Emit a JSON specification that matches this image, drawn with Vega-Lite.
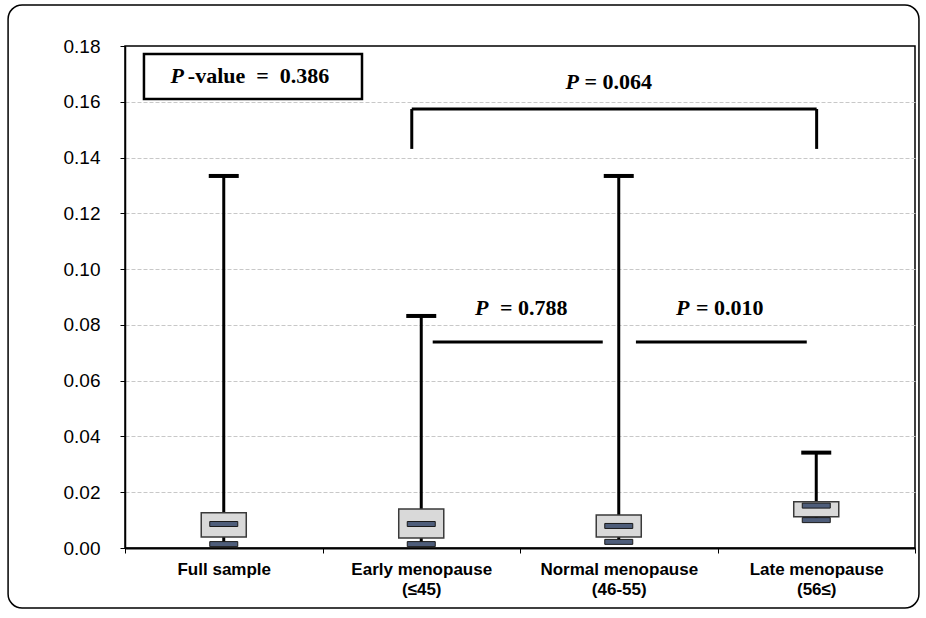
{
  "$schema": "https://vega.github.io/schema/vega-lite/v6.json",
  "width": 790,
  "height": 502,
  "autosize": "none",
  "padding": {"left": 125, "top": 46, "right": 11, "bottom": 70},
  "background": "#ffffff",
  "config": {
    "view": {"stroke": "#000000", "strokeWidth": 1.5},
    "font": "Liberation Sans"
  },
  "datasets": {
    "boxes": [
      {"group": "Full sample", "lower": 0.0014, "q1": 0.0039, "median": 0.0086, "q3": 0.0126, "upper": 0.1334},
      {"group": "Early menopause\n(≤45)", "lower": 0.0014, "q1": 0.0036, "median": 0.0086, "q3": 0.0140, "upper": 0.0832},
      {"group": "Normal menopause\n(46-55)", "lower": 0.0022, "q1": 0.0039, "median": 0.0079, "q3": 0.0118, "upper": 0.1334},
      {"group": "Late menopause\n(56≤)", "lower": 0.0100, "q1": 0.0112, "median": 0.0152, "q3": 0.0166, "upper": 0.0342}
    ],
    "segments": [
      {"x": 1.452, "x2": 3.502, "y": 0.1574, "y2": 0.1574},
      {"x": 1.452, "x2": 1.452, "y": 0.1574, "y2": 0.1431},
      {"x": 3.502, "x2": 3.502, "y": 0.1574, "y2": 0.1431},
      {"x": 1.558, "x2": 2.419, "y": 0.0739, "y2": 0.0739},
      {"x": 2.587, "x2": 3.452, "y": 0.0739, "y2": 0.0739}
    ],
    "labels": [
      {"px": 0.231, "rx": 0.318, "y": 0.1692, "rest": "-value\u00a0\u00a0=\u00a0\u00a00.386"},
      {"px": 2.231, "rx": 2.326, "y": 0.1672, "rest": "= 0.064"},
      {"px": 1.772, "rx": 1.899, "y": 0.0861, "rest": "= 0.788"},
      {"px": 2.790, "rx": 2.891, "y": 0.0861, "rest": "= 0.010"}
    ],
    "pbox": [
      {"x": 0.096, "x2": 1.200, "y": 0.1771, "y2": 0.1610}
    ]
  },
  "layer": [
    {
      "data": {"name": "boxes"},
      "encoding": {
        "x": {
          "field": "group",
          "type": "nominal",
          "sort": null,
          "scale": {"paddingInner": 0, "paddingOuter": 0},
          "axis": {
            "title": null,
            "labelAngle": 0,
            "labelExpr": "split(datum.label, '\\n')",
            "labelFont": "Liberation Sans Narrow, Liberation Sans",
            "labelFontWeight": "bold",
            "labelFontSize": 17,
            "labelLineHeight": 20,
            "labelColor": "#000000",
            "labelPadding": 8,
            "tickBand": "extent",
            "ticks": true,
            "tickSize": 5,
            "tickColor": "#000000",
            "tickWidth": 1,
            "domainColor": "#000000",
            "domainWidth": 2
          }
        }
      },
      "layer": [
        {
          "mark": {"type": "rule", "color": "#000000", "strokeWidth": 3},
          "encoding": {
            "y": {"field": "lower", "type": "quantitative", "scale": {"domain": [0, 0.18], "nice": false},
              "axis": {
                "title": null,
                "values": [0, 0.02, 0.04, 0.06, 0.08, 0.1, 0.12, 0.14, 0.16, 0.18],
                "format": ".2f",
                "labelFontSize": 19,
                "labelColor": "#000000",
                "labelPadding": 20,
                "tickSize": 5,
                "tickColor": "#000000",
                "domainColor": "#000000",
                "domainWidth": 1.5,
                "grid": true,
                "gridColor": "#c8c8c8",
                "gridDash": [4, 2],
                "gridWidth": 1,
                "gridOpacity": {"condition": {"test": "datum.value <= 0 || datum.value >= 0.179", "value": 0}, "value": 1}
              }
            },
            "y2": {"field": "upper"}
          }
        },
        {
          "mark": {"type": "bar", "width": {"band": 0.228}, "fill": "#d9d9d9", "stroke": "#3a3a3a", "strokeWidth": 1.5},
          "encoding": {
            "y": {"field": "q1", "type": "quantitative"},
            "y2": {"field": "q3"}
          }
        },
        {
          "mark": {"type": "tick", "size": 28, "thickness": 5, "color": "#4e5d7a", "stroke": "#1a1a1a", "strokeWidth": 1, "opacity": 1},
          "encoding": {
            "y": {"field": "median", "type": "quantitative"}
          }
        },
        {
          "mark": {"type": "tick", "size": 28, "thickness": 5, "color": "#4e5d7a", "stroke": "#1a1a1a", "strokeWidth": 1, "opacity": 1},
          "encoding": {
            "y": {"field": "lower", "type": "quantitative"}
          }
        },
        {
          "mark": {"type": "tick", "size": 30, "thickness": 4, "color": "#000000", "opacity": 1},
          "encoding": {
            "y": {"field": "upper", "type": "quantitative"}
          }
        }
      ]
    },
    {
      "layer": [
        {
          "data": {"name": "pbox"},
          "mark": {"type": "rect", "fill": null, "stroke": "#000000", "strokeWidth": 2.5},
          "encoding": {
            "x": {"field": "x", "type": "quantitative", "scale": {"domain": [0, 4], "nice": false, "zero": false}, "axis": null},
            "x2": {"field": "x2"},
            "y": {"field": "y", "type": "quantitative", "scale": {"domain": [0, 0.18], "nice": false}},
            "y2": {"field": "y2"}
          }
        },
        {
          "data": {"name": "segments"},
          "mark": {"type": "rule", "color": "#000000", "strokeWidth": 3},
          "encoding": {
            "x": {"field": "x", "type": "quantitative"},
            "x2": {"field": "x2"},
            "y": {"field": "y", "type": "quantitative"},
            "y2": {"field": "y2"}
          }
        },
        {
          "data": {"name": "labels"},
          "mark": {"type": "text", "text": "P", "font": "Liberation Serif", "fontStyle": "italic", "fontWeight": "bold", "fontSize": 22, "align": "left", "baseline": "middle", "color": "#000000"},
          "encoding": {
            "x": {"field": "px", "type": "quantitative"},
            "y": {"field": "y", "type": "quantitative"}
          }
        },
        {
          "data": {"name": "labels"},
          "mark": {"type": "text", "font": "Liberation Serif", "fontWeight": "bold", "fontSize": 22, "align": "left", "baseline": "middle", "color": "#000000"},
          "encoding": {
            "x": {"field": "rx", "type": "quantitative"},
            "y": {"field": "y", "type": "quantitative"},
            "text": {"field": "rest"}
          }
        },
        {
          "data": {"values": [{}]},
          "mark": {"type": "rect", "fill": null, "stroke": "#000000", "strokeWidth": 1.5, "cornerRadius": 14},
          "encoding": {
            "x": {"datum": -0.592, "type": "quantitative"},
            "x2": {"datum": 4.020},
            "y": {"datum": 0.1947, "type": "quantitative"},
            "y2": {"datum": -0.0215}
          }
        }
      ]
    }
  ],
  "resolve": {"scale": {"x": "independent"}}
}
